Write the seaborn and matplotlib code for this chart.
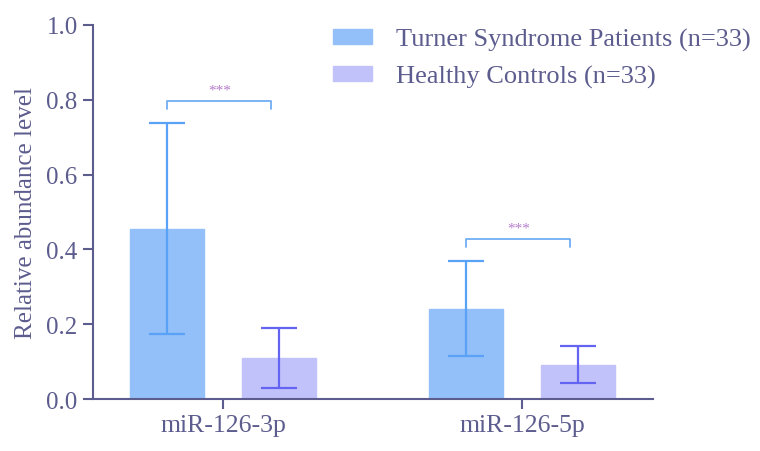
import matplotlib
matplotlib.use('Agg')
import matplotlib.pyplot as plt
import matplotlib.patches as mpatches
import pandas as pd
import seaborn as sns

# data
mirnas = ['miR-126-3p', 'miR-126-5p']
groups = ['Turner Syndrome Patients (n=33)', 'Healthy Controls (n=33)']
ts_mean = [0.455, 0.241]
ts_sd = [0.282, 0.127]
hc_mean = [0.110, 0.092]
hc_sd = [0.080, 0.050]
bracket_y = [0.797, 0.428]
stars = ['***', '***']

ink = '#5c5c8e'
bar_colors = ['#93c0f8', '#c2c2fb']
err_colors = ['#5aa2f8', '#6464f2']

sns.set_style('ticks')
plt.rcParams['font.family'] = ['Liberation Serif', 'DejaVu Serif']

df = pd.DataFrame({
    'mirna': mirnas * 2,
    'group': [groups[0]] * 2 + [groups[1]] * 2,
    'value': ts_mean + hc_mean,
})

fig = plt.figure(figsize=(7.6, 4.52), dpi=100)
ax = fig.add_axes([0.1224, 0.115, 0.7368, 0.8275])

sns.barplot(data=df, x='mirna', y='value', hue='group', hue_order=groups,
            palette=bar_colors, width=0.745, gap=0.336, errorbar=None,
            saturation=1, legend=False, ax=ax)

# error bars at bar centres
sds = [ts_sd, hc_sd]
means = [ts_mean, hc_mean]
centers = []
bar_conts = list(ax.containers)
for i, cont in enumerate(bar_conts):
    xs = [p.get_x() + p.get_width() / 2 for p in cont.patches]
    centers.append(xs)
    for p in cont.patches:
        p.set_edgecolor(bar_colors[i])
    ax.errorbar(xs, means[i], yerr=sds[i], fmt='none', ecolor=err_colors[i],
                elinewidth=1.6, capsize=13, capthick=1.6, zorder=3)

# significance brackets
for j in range(len(mirnas)):
    x1 = centers[0][j]
    x2 = centers[1][j] - 0.025
    y = bracket_y[j]
    ax.plot([x1, x1, x2, x2], [y - 0.022, y, y, y - 0.022], color='#70aef5', lw=1.3)
    ax.text((x1 + x2) / 2, y + 0.012, stars[j], ha='center', va='bottom',
            color='#b67fcc', fontsize=11)

ax.set_xlim(-0.435, 1.438)
ax.set_ylim(0, 1.0)
ax.set_yticks([0, 0.2, 0.4, 0.6, 0.8, 1.0])
ax.set_yticklabels(['0.0', '0.2', '0.4', '0.6', '0.8', '1.0'])
ax.set_xlabel('')
ax.set_ylabel('Relative abundance level', fontsize=18, color=ink, labelpad=7)
ax.tick_params(colors=ink, labelsize=18, length=7, width=1.5, pad=4)
ax.tick_params(axis='x', labelsize=18.5)
for side in ['left', 'bottom']:
    ax.spines[side].set_color(ink)
    ax.spines[side].set_linewidth(1.5)
sns.despine(ax=ax)

handles = [mpatches.Patch(facecolor=c, edgecolor=c) for c in bar_colors]
leg = fig.legend(handles, groups, loc='upper left', bbox_to_anchor=(0.407, 0.989),
                 frameon=False, fontsize=19, handlelength=1.47, handleheight=0.5,
                 handletextpad=0.9, labelspacing=0.55)
for t in leg.get_texts():
    t.set_color(ink)

fig.savefig('out.png', dpi=100)
